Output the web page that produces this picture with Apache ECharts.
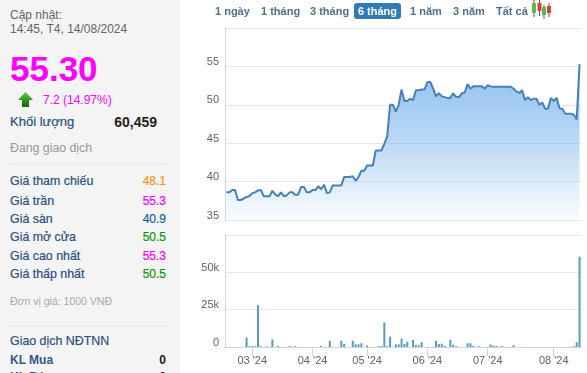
<!DOCTYPE html>
<html>
<head>
<meta charset="utf-8">
<script src="https://cdn.jsdelivr.net/npm/echarts@6/dist/echarts.min.js"></script>
<style>
html, body { margin: 0; padding: 0; background: #fff; }
body { width: 587px; height: 373px; overflow: hidden; position: relative; font-family: "Liberation Sans", Arial, sans-serif; }
#chart { position: absolute; left: 0; top: 0; width: 587px; height: 373px; }
#side { position: absolute; left: 0; top: 0; width: 180px; height: 373px; background: #f4f4f4; overflow: hidden; }
#side div, #tabs span { position: absolute; white-space: nowrap; line-height: 16px; }
.lbl { left: 10px; font-size: 12.4px; color: #2c5080; -webkit-text-stroke: 0.2px #2c5080; }
.val { right: 14px; font-size: 12px; -webkit-text-stroke: 0.2px; }
.rule { left: 9px; width: 158px; height: 1px; background: #e9e9e9; }
#tabs span { top: 3px; height: 16px; font-size: 11px; font-weight: bold; color: #4f6f8f; text-align: center; }
#tabs span.on { background: #337ab7; color: #fff; border-radius: 3px; }
#candles { position: absolute; left: 530px; top: 0; }
#arrow { position: absolute; left: 17px; top: 91px; }
</style>
</head>
<body>
<div id="chart"></div>
<div id="side"></div>
<div id="tabs"></div>
<svg id="arrow" width="17" height="17" viewBox="0 0 17 17">
  <defs><linearGradient id="ag" x1="0" y1="0" x2="0" y2="1"><stop offset="0" stop-color="#5ccf3a"/><stop offset="1" stop-color="#066b06"/></linearGradient></defs>
  <path d="M8.5 1 L16 9 L12 9 L12 16 L5 16 L5 9 L1 9 Z" fill="url(#ag)"/>
</svg>
<svg id="candles" width="24" height="20">
  <path d="M4 0V17M9.500 0V16M14 5V19M19 3V17" stroke="#555" stroke-width="1"/>
  <rect x="2" y="3" width="4" height="10" fill="#4fbf4f"/>
  <rect x="7.500" y="3" width="4" height="8" fill="#d9403a"/>
  <rect x="12" y="7" width="4" height="8" fill="#4fbf4f"/>
  <rect x="17" y="6" width="4" height="7" fill="#d9403a"/>
</svg>
<script>
// gia dong cua theo phien (nghin dong)
var prices = [
  38.6, 38.6, 38.9, 38.9, 37.6, 37.6, 37.8, 38.0, 38.1, 38.5,
  38.6, 38.85, 38.9, 38.1, 38.1, 38.1, 38.8, 38.3, 38.1, 38.6,
  38.1, 38.2, 38.6, 38.6, 38.3, 38.3, 39.3, 39.3, 38.6, 38.6,
  38.9, 38.9, 39.4, 39.0, 39.6, 38.5, 38.6, 39.5, 39.5, 39.5,
  39.5, 40.6, 40.6, 40.6, 40.7, 40.1, 40.6, 41.4, 41.4, 42.1,
  42.1, 42.1, 44.05, 44.05, 44.05, 44.9, 45.9, 50, 50, 49.1,
  50, 52, 50.5, 50.5, 50.8, 50.6, 51.9, 51.9, 52, 52,
  52.95, 53, 52.1, 51.1, 51.5, 51.1, 51, 50.9, 50.9, 51.5,
  51, 51, 51.5, 51.6, 52.7, 52.1, 52.4, 52.4, 52.4, 52.4,
  52.1, 52.55, 52.4, 52.35, 52.35, 52.35, 52.35, 52.35, 52.35, 52.35,
  52.1, 51.75, 51.55, 51.9, 50.6, 51, 50.6, 50.8, 50.8, 50,
  50.3, 49.5, 49.5, 50.9, 50.5, 50.9, 49.55, 49.5, 48.85, 48.85,
  48.85, 48.7, 48.1, 55.3
];
// khoi luong (nghin cp)
var volumes = [
  0, 0, 0, 0, 0, 0, 0, 6.4, 0.5, 0.5,
  0.5, 28, 0.5, 0, 0.5, 0, 5.1, 0, 0.6, 0,
  0, 0, 0.5, 0, 0.5, 0, 0, 0, 0, 0,
  0, 0, 0, 0.7, 0, 0, 4.2, 0, 0, 0,
  4.2, 2, 0, 0, 4.2, 1.8, 1.8, 2.5, 0, 1,
  0, 0, 0, 0.5, 0.6, 16.4, 0.5, 6.9, 0, 1.8,
  1.8, 5.6, 2, 3.5, 0, 4.7, 1.2, 1.2, 3.2, 0,
  0, 0, 0, 4.2, 2, 2.2, 0.8, 0, 4.8, 1.5,
  0.5, 0, 0, 0, 2.5, 2.5, 0.8, 0, 0.5, 0,
  0, 0, 1.7, 0.8, 0.7, 0, 0.6, 0, 0, 0,
  1.2, 0, 0, 0, 0, 0, 0, 0, 0, 0,
  0, 0, 0, 0, 0, 0, 0, 0, 0, 0,
  0, 0.5, 3.2, 60.459
];
var monthIndex = [9, 30, 49, 70, 91, 114];
var monthLabels = ["03 '24", "04 '24", "05 '24", "06 '24", "07 '24", "08 '24"];

var tabs = [
  ["1 ngày", 215, 30], ["1 tháng", 261, 34], ["3 tháng", 310, 35], ["6 tháng", 354, 47, "on"],
  ["1 năm", 410, 28], ["3 năm", 453, 28], ["Tất cả", 496, 28]
];
var rows = [
  ["Giá tham chiếu", "48.1", "#f7941d", 173],
  ["Giá trần", "55.3", "#f0f", 193],
  ["Giá sàn", "40.9", "#1b5e96", 211],
  ["Giá mở cửa", "50.5", "#0a9a0a", 229],
  ["Giá cao nhất", "55.3", "#f0f", 248],
  ["Giá thấp nhất", "50.5", "#0a9a0a", 266]
];

var categories = prices.map(function (p, i) {
  var k = monthIndex.indexOf(i);
  return k >= 0 ? monthLabels[k] : "";
});

// cot trai
function sideText(cls, text, top, style) {
  var d = document.createElement("div");
  d.className = cls;
  d.textContent = text;
  d.style.top = top + "px";
  d.style.cssText += style || "";
  document.getElementById("side").appendChild(d);
}
var plain = "-webkit-text-stroke:0;";
sideText("lbl", "Cập nhật:", 7, plain + "color:#666;font-size:12px;");
sideText("lbl", "14:45, T4, 14/08/2024", 21, plain + "color:#666;font-size:12px;");
sideText("lbl", "55.30", 52, plain + "color:#f0f;font-size:35px;font-weight:bold;line-height:34px;");
sideText("lbl", "7.2 (14.97%)", 92, plain + "left:43px;color:#f0f;font-size:12px;");
sideText("lbl", "Khối lượng", 114, "font-size:13px;");
sideText("val", "60,459", 114, plain + "right:23px;color:#222;font-size:14px;font-weight:bold;");
sideText("lbl", "Đang giao dịch", 140, plain + "color:#999;font-size:12.300px;");
sideText("rule", "", 163);
rows.forEach(function (r) {
  sideText("lbl", r[0], r[3]);
  sideText("val", r[1], r[3], "color:" + r[2] + ";");
});
sideText("lbl", "Đơn vị giá: 1000 VNĐ", 293, plain + "color:#aaa;font-size:10.500px;");
sideText("rule", "", 326);
sideText("lbl", "Giao dịch NĐTNN", 333);
sideText("lbl", "KL Mua", 352, plain + "font-weight:bold;font-size:12px;color:#34588a;");
sideText("val", "0", 352, plain + "color:#222;font-weight:bold;");
sideText("lbl", "KL Bán", 369, plain + "font-weight:bold;font-size:12px;color:#34588a;");
sideText("val", "0", 369, plain + "color:#222;font-weight:bold;");

// cac nut chon khoang thoi gian
tabs.forEach(function (t) {
  var s = document.createElement("span");
  s.textContent = t[0];
  s.style.left = t[1] + "px";
  s.style.width = t[2] + "px";
  if (t[3]) s.className = t[3];
  document.getElementById("tabs").appendChild(s);
});

var myChart = echarts.init(document.getElementById("chart"));
var labelStyle = { color: "#606070", fontSize: 11, fontFamily: "Liberation Sans" };
var gridLine = { show: true, lineStyle: { color: "#e6e6e6", width: 1 } };
function isMonth(i) { return monthIndex.indexOf(i) >= 0; }

myChart.setOption({
  animation: false,
  grid: [
    { left: 225, width: 356, top: 28, height: 192 },
    { left: 225, width: 356, top: 235, height: 112 }
  ],
  xAxis: [
    {
      type: "category", gridIndex: 0, data: categories, boundaryGap: true,
      axisLine: { lineStyle: { color: "#e6e6e6" } },
      axisTick: { show: false }, axisLabel: { show: false }
    },
    {
      type: "category", gridIndex: 1, data: categories, boundaryGap: true,
      axisLine: { lineStyle: { color: "#ccd6eb" } },
      axisTick: { show: true, alignWithLabel: true, length: 9, interval: isMonth, lineStyle: { color: "#ccd6eb" } },
      axisLabel: Object.assign({ interval: isMonth, margin: 8, hideOverlap: false }, labelStyle)
    }
  ],
  yAxis: [
    {
      type: "value", gridIndex: 0, min: 35, max: 60, interval: 5,
      axisLine: { show: true, lineStyle: { color: "#ccd6eb" } },
      axisTick: { show: false },
      splitLine: gridLine,
      axisLabel: Object.assign({ showMaxLabel: false, showMinLabel: true, margin: 6, verticalAlign: "bottom", lineHeight: 9 }, labelStyle)
    },
    {
      type: "value", gridIndex: 1, min: 0, max: 75, interval: 25,
      axisLine: { show: true, lineStyle: { color: "#ccd6eb" } },
      axisTick: { show: false },
      splitLine: gridLine,
      axisLabel: Object.assign({
        showMaxLabel: false, showMinLabel: true, margin: 6, verticalAlign: "bottom", lineHeight: 9,
        formatter: function (v) { return v ? v + "k" : "0"; }
      }, labelStyle)
    }
  ],
  series: [
    {
      type: "line", xAxisIndex: 0, yAxisIndex: 0, data: prices,
      symbol: "none",
      lineStyle: { color: "#4682b4", width: 2 },
      areaStyle: {
        opacity: 1,
        color: new echarts.graphic.LinearGradient(0, 0, 0, 1, [
          { offset: 0, color: "rgba(124,181,236,0.85)" },
          { offset: 0.5, color: "rgba(124,181,236,0.52)" },
          { offset: 1, color: "rgba(124,181,236,0.03)" }
        ])
      }
    },
    {
      type: "bar", xAxisIndex: 1, yAxisIndex: 1, data: volumes,
      barWidth: 2,
      itemStyle: { color: "#5c9aba" }
    }
  ]
});
</script>
</body>
</html>
